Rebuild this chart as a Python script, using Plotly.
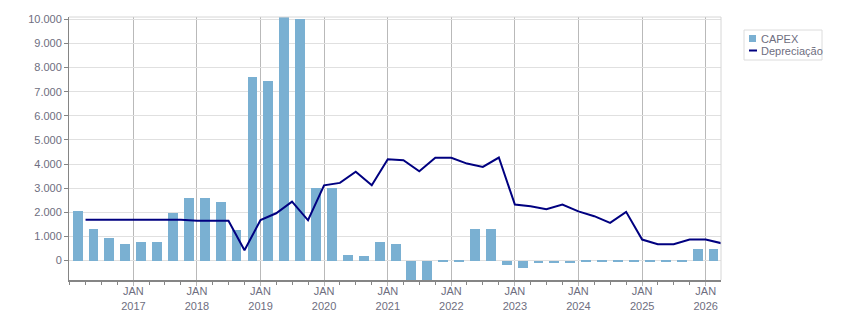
import pandas as pd
import plotly.graph_objects as go

# ---- data ----
quarters = pd.period_range("2016Q1", "2026Q1", freq="Q")
capex = [2050, 1300, 930, 680,
         760, 760, 1960, 2590,
         2590, 2420, 1270, 7600,
         7440, 10080, 10000, 3000,
         3000, 220, 180, 760,
         680, -1000, -1000, -40,
         -40, 1300, 1300, -200,
         -320, -110, -110, -110,
         -40, -40, -40, -40,
         -40, -40, -40, 470,
         470]
dep_dates = pd.date_range("2016-04-01", "2026-04-01", freq="QS")
depreciacao = [1690, 1690, 1690, 1690, 1690, 1690, 1690, 1650, 1650, 1650,
               430, 1680, 1960, 2440, 1670, 3120, 3220, 3680, 3120, 4200,
               4160, 3700, 4260, 4260, 4020, 3880, 4270, 2320, 2250, 2130,
               2320, 2040, 1840, 1560, 2020, 870, 680, 680, 870, 870, 720]
years = list(range(2017, 2027))
tick_vals = [f"{y}-01-01" for y in years]
tick_text = [f"JAN<br>{y}" for y in years]

bar_x = [p.start_time + (p.end_time - p.start_time) / 2 for p in quarters]

FONT = "Liberation Sans, Arial, sans-serif"
TXT = "#6e6e80"
W, H = 851, 313
L, R, T, B = 69, 721, 17, 280

def px(x):
    return (x - L) / (R - L)

def py(y):
    return 1 - (y - T) / (B - T)

fig = go.Figure()
fig.add_trace(go.Bar(x=bar_x, y=capex, name="CAPEX", marker_color="#7ab0d2",
                     marker_line_width=0, width=57 * 86400000, showlegend=False))
fig.add_trace(go.Scatter(x=dep_dates, y=depreciacao, name="Depreciação", mode="lines",
                         line=dict(color="#000080", width=2), showlegend=False))

shapes = [
    # plot-area light border (top / right)
    dict(type="line", xref="paper", yref="paper", x0=0, x1=1, y0=1, y1=1,
         line=dict(color="#d6d6d6", width=1)),
    dict(type="line", xref="paper", yref="paper", x0=1, x1=1, y0=0, y1=1,
         line=dict(color="#d6d6d6", width=1)),
    # legend box
    dict(type="rect", xref="paper", yref="paper", x0=px(744), x1=px(822),
         y0=py(30), y1=py(60), line=dict(color="#dcdcdc", width=1), fillcolor="white"),
    dict(type="rect", xref="paper", yref="paper", x0=px(749), x1=px(756),
         y0=py(35), y1=py(42), line=dict(width=0), fillcolor="#7ab0d2"),
    dict(type="line", xref="paper", yref="paper", x0=px(749), x1=px(757),
         y0=py(50.5), y1=py(50.5), line=dict(color="#000080", width=2)),
]
annotations = [
    dict(xref="paper", yref="paper", x=px(759), y=py(38.8), text="CAPEX", showarrow=False,
         xanchor="left", yanchor="middle", font=dict(family=FONT, size=11, color=TXT)),
    dict(xref="paper", yref="paper", x=px(759), y=py(50.5), text="Depreciação", showarrow=False,
         xanchor="left", yanchor="middle", font=dict(family=FONT, size=11, color=TXT)),
]

fig.update_layout(
    width=W, height=H,
    margin=dict(l=L, r=W - R, t=T, b=H - B, pad=0),
    paper_bgcolor="white", plot_bgcolor="white",
    separators=",.",
    font=dict(family=FONT, size=11, color=TXT),
    bargap=0, showlegend=False,
    shapes=shapes, annotations=annotations,
)
fig.update_xaxes(
    type="date", range=["2015-12-28", "2026-03-30"], automargin=False,
    tickmode="array", tickvals=tick_vals, ticktext=tick_text,
    showgrid=True, gridcolor="#b9b9b9", gridwidth=1,
    ticks="outside", ticklen=4, tickcolor="#b9b9b9",
    ticklabelstandoff=-4,
    showline=True, linecolor="#858585", linewidth=2,
    minor=dict(dtick="M3", tick0="2016-01-01", ticks="outside", ticklen=3,
               tickcolor="#858585", showgrid=False),
    tickfont=dict(family=FONT, size=11, color=TXT),
    zeroline=False,
)
fig.update_yaxes(
    range=[-805, 10095], dtick=1000, tick0=0, tickformat=",d", automargin=False,
    showgrid=True, gridcolor="#e0e0e0", gridwidth=1,
    ticks="outside", ticklen=4, tickcolor="#858585",
    showline=True, linecolor="#858585", linewidth=1,
    zeroline=False,
    tickfont=dict(family=FONT, size=11, color=TXT),
)

fig.write_html("out.html")
